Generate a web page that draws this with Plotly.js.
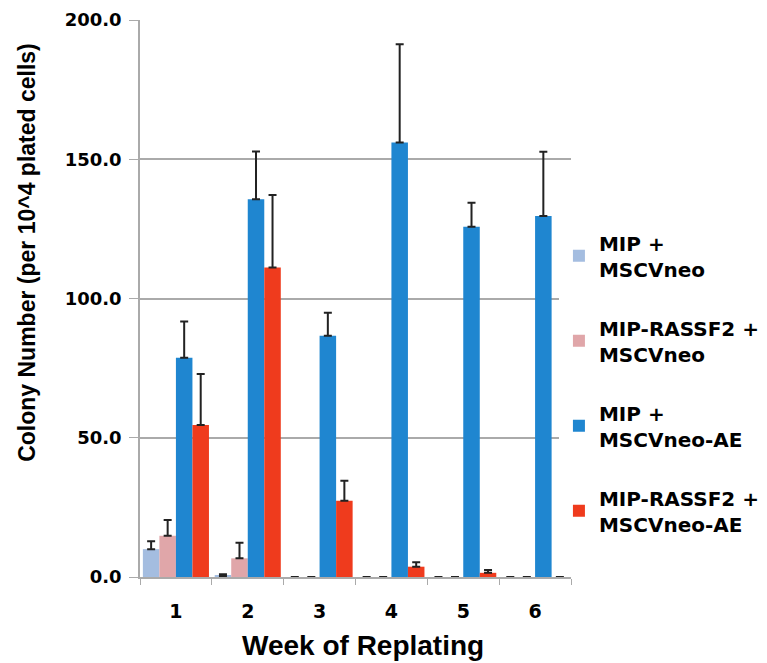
<!DOCTYPE html>
<html>
<head>
<meta charset="utf-8">
<script src="https://cdn.plot.ly/plotly-3.0.1.min.js"></script>
<style>html,body{margin:0;padding:0;background:#fff;}#chart{width:767px;height:663px;}</style>
</head>
<body>
<div id="chart"></div>
<script>
const weeks = ["1", "2", "3", "4", "5", "6"];
const seriesNames = ["MIP +<br>MSCVneo", "MIP-RASSF2 +<br>MSCVneo", "MIP +<br>MSCVneo-AE", "MIP-RASSF2 +<br>MSCVneo-AE"];
const mipNeo = [10.0, 0.4, 0, 0, 0, 0];
const mipNeoErr = [2.8, 0.6, null, null, null, null];
const rassfNeo = [14.8, 6.7, 0, 0, 0, 0];
const rassfNeoErr = [5.7, 5.6, null, null, null, null];
const mipAE = [78.7, 135.6, 86.6, 156.0, 125.8, 129.6];
const mipAEErr = [13.0, 17.2, 8.3, 35.3, 8.6, 23.1];
const rassfAE = [54.6, 111.1, 27.4, 3.7, 1.5, 0];
const rassfAEErr = [18.3, 26.1, 7.2, 1.6, 1.0, null];
const yTicks = [0, 50, 100, 150, 200];
const colors = ["#a4bde0", "#e0a6a9", "#1f86d0", "#ef3b1d"];

const values = [mipNeo, rassfNeo, mipAE, rassfAE];
const errs = [mipNeoErr, rassfNeoErr, mipAEErr, rassfAEErr];

const traces = values.map((v, i) => ({
  type: "bar",
  x: weeks,
  y: v,
  name: seriesNames[i],
  legendgroup: "g" + i,
  marker: {color: colors[i]},
  error_y: {type: "data", array: errs[i], symmetric: false, arrayminus: errs[i].map(() => 0),
            color: "#222", thickness: 2, width: 4}
}));

const dv = "DejaVu Sans, Verdana, sans-serif";
const lib = "Liberation Sans, Arial, sans-serif";

const layout = {
  width: 767, height: 663,
  margin: {l: 140, r: 196, t: 20, b: 86, autoexpand: false},
  paper_bgcolor: "#fff", plot_bgcolor: "#fff",
  font: {family: lib, color: "#000"},
  barmode: "group", bargap: 0.08, bargroupgap: 0,
  xaxis: {
    type: "category",
    showline: true, linecolor: "#aaa", linewidth: 1.5,
    ticks: "outside", tickson: "boundaries", ticklen: 6, tickcolor: "#aaa",
    ticklabelstandoff: 16,
    tickfont: {size: 19, family: dv, weight: "bold"}
  },
  yaxis: {
    range: [0, 200], tickvals: yTicks, tickformat: ".1f",
    showgrid: true, gridcolor: "#aaa", gridwidth: 1.5,
    showline: true, linecolor: "#aaa", linewidth: 1.5,
    ticks: "outside", ticklen: 9, tickcolor: "#aaa",
    ticklabelstandoff: 4,
    zeroline: false,
    tickfont: {size: 18, family: dv, weight: "bold"}
  },
  annotations: [
    {text: "<b>Colony Number (per 10^4 plated cells)</b>", textangle: -90,
     xref: "paper", yref: "paper", x: 0, xanchor: "center", xshift: -113,
     y: 0.582, yanchor: "middle", showarrow: false,
     font: {size: 23, family: lib, color: "#000"}},
    {text: "<b>Week of Replating</b>",
     xref: "paper", yref: "paper", x: 0.517, xanchor: "center",
     y: 0, yanchor: "middle", yshift: -68, showarrow: false,
     font: {size: 28, family: lib, color: "#000"}}
  ],
  legend: {
    x: 0.972, xanchor: "left", y: 0.635, yanchor: "top",
    font: {size: 20, family: dv, weight: "bold"},
    tracegroupgap: 30, traceorder: "grouped",
    itemwidth: 30
  }
};

Plotly.newPlot("chart", traces, layout, {displayModeBar: false});
</script>
</body>
</html>
